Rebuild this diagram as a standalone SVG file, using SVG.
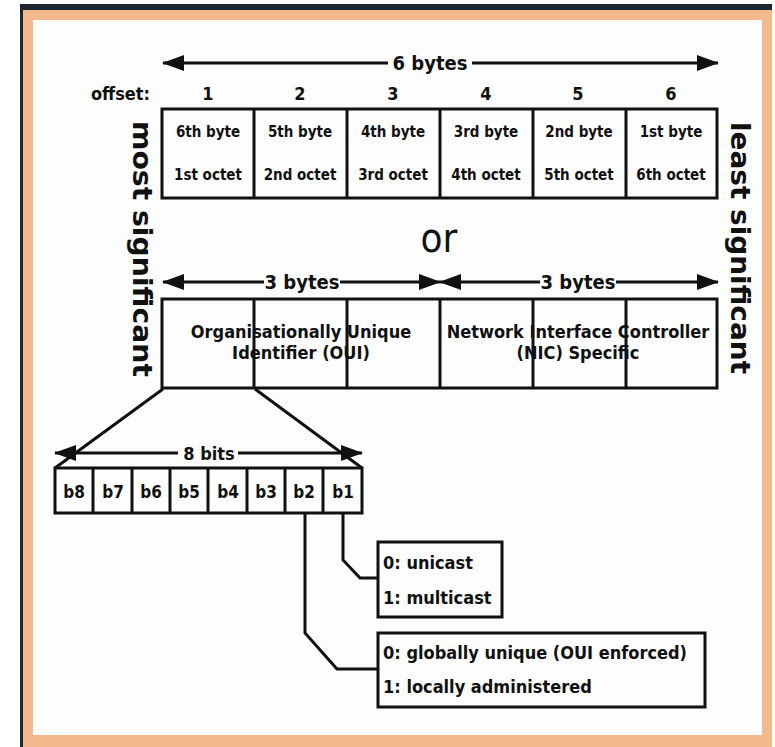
<svg xmlns="http://www.w3.org/2000/svg" width="775" height="747" viewBox="0 0 775 747">
<style>
.t{font-family:"DejaVu Sans Condensed","DejaVu Sans",sans-serif;font-weight:bold;fill:#111;text-anchor:middle}
.l{text-anchor:start}
.box{fill:none;stroke:#111;stroke-width:3}
.ln{fill:none;stroke:#111;stroke-width:3}
.ar{fill:none;stroke:#111;stroke-width:3;marker-start:url(#ah);marker-end:url(#ah)}
.side{font-family:"DejaVu Sans",sans-serif;font-weight:bold;font-size:27px;fill:#111}
</style>
<defs>
<marker id="ah" markerUnits="userSpaceOnUse" markerWidth="22" markerHeight="16" viewBox="0 0 22 16" refX="21" refY="8" orient="auto-start-reverse">
<path d="M0,0 L22,8 L0,16 z" fill="#111"/>
</marker>
</defs>
<g id="frame">
<rect x="0" y="0" width="775" height="747" fill="#ffffff"/>
<rect x="20" y="4" width="752" height="743" fill="#1e2632"/>
<rect x="23" y="10" width="749" height="737" fill="#f3b98d"/>
<rect x="33" y="20" width="729" height="715" fill="#fdfdfd"/>
</g>
<g id="sides">
<text class="side" transform="translate(133,121) rotate(90)" textLength="256" lengthAdjust="spacingAndGlyphs">most significant</text>
<text class="side" transform="translate(731,122) rotate(90)" textLength="252" lengthAdjust="spacingAndGlyphs">least significant</text>
</g>
<g id="dimensions">
<line class="ar" x1="163" y1="63" x2="718" y2="63"/>
<rect x="388" y="50" width="84" height="26" fill="#fdfdfd"/>
<text class="t" x="430" y="70" font-size="20">6 bytes</text>
<line class="ar" x1="163" y1="282" x2="440" y2="282"/>
<line class="ar" x1="440" y1="282" x2="718" y2="282"/>
<rect x="264" y="269" width="76" height="26" fill="#fdfdfd"/>
<text class="t" x="302" y="289" font-size="20">3 bytes</text>
<rect x="540" y="269" width="76" height="26" fill="#fdfdfd"/>
<text class="t" x="578" y="289" font-size="20">3 bytes</text>
</g>
<g id="offsets">
<text class="t" x="150" y="100" font-size="18" style="text-anchor:end">offset:</text>
<text class="t" x="208" y="100" font-size="18">1</text>
<text class="t" x="300" y="100" font-size="18">2</text>
<text class="t" x="393" y="100" font-size="18">3</text>
<text class="t" x="486" y="100" font-size="18">4</text>
<text class="t" x="578" y="100" font-size="18">5</text>
<text class="t" x="671" y="100" font-size="18">6</text>
</g>
<g id="bytes-row">
<rect class="box" x="162" y="109" width="555" height="89"/>
<line class="ln" x1="254" y1="109" x2="254" y2="198"/>
<line class="ln" x1="347" y1="109" x2="347" y2="198"/>
<line class="ln" x1="440" y1="109" x2="440" y2="198"/>
<line class="ln" x1="533" y1="109" x2="533" y2="198"/>
<line class="ln" x1="626" y1="109" x2="626" y2="198"/>
<g font-size="15">
<text class="t" x="208" y="137">6th byte</text>
<text class="t" x="300" y="137">5th byte</text>
<text class="t" x="393" y="137">4th byte</text>
<text class="t" x="486" y="137">3rd byte</text>
<text class="t" x="579" y="137">2nd byte</text>
<text class="t" x="671" y="137">1st byte</text>
<text class="t" x="208" y="180">1st octet</text>
<text class="t" x="300" y="180">2nd octet</text>
<text class="t" x="393" y="180">3rd octet</text>
<text class="t" x="486" y="180">4th octet</text>
<text class="t" x="579" y="180">5th octet</text>
<text class="t" x="671" y="180">6th octet</text>
</g>
</g>
<g id="or">
<text x="439" y="252" font-family="DejaVu Sans Condensed, DejaVu Sans, sans-serif" font-size="40" fill="#111" text-anchor="middle">or</text>
</g>
<g id="oui-nic-row">
<g font-size="18">
<text class="t" x="301" y="338">Organisationally Unique</text>
<text class="t" x="301" y="359">Identifier (OUI)</text>
<text class="t" x="578" y="338">Network Interface Controller</text>
<text class="t" x="578" y="359">(NIC) Specific</text>
</g>
<rect class="box" x="162" y="299" width="555" height="89"/>
<line class="ln" x1="254" y1="299" x2="254" y2="388"/>
<line class="ln" x1="347" y1="299" x2="347" y2="388"/>
<line class="ln" x1="440" y1="299" x2="440" y2="388"/>
<line class="ln" x1="533" y1="299" x2="533" y2="388"/>
<line class="ln" x1="626" y1="299" x2="626" y2="388"/>
</g>
<g id="bits">
<rect class="box" x="55" y="468" width="307" height="45"/>
<line class="ln" x1="93" y1="468" x2="93" y2="513"/>
<line class="ln" x1="132" y1="468" x2="132" y2="513"/>
<line class="ln" x1="170" y1="468" x2="170" y2="513"/>
<line class="ln" x1="208" y1="468" x2="208" y2="513"/>
<line class="ln" x1="247" y1="468" x2="247" y2="513"/>
<line class="ln" x1="285" y1="468" x2="285" y2="513"/>
<line class="ln" x1="323" y1="468" x2="323" y2="513"/>
<g font-size="17">
<text class="t" x="74" y="498">b8</text>
<text class="t" x="113" y="498">b7</text>
<text class="t" x="151" y="498">b6</text>
<text class="t" x="189" y="498">b5</text>
<text class="t" x="228" y="498">b4</text>
<text class="t" x="266" y="498">b3</text>
<text class="t" x="304" y="498">b2</text>
<text class="t" x="343" y="498">b1</text>
</g>
</g>
<g id="cast-box">
<rect class="box" x="378" y="542" width="124" height="75"/>
<text class="t l" x="383" y="569" font-size="18">0: unicast</text>
<text class="t l" x="383" y="604" font-size="18">1: multicast</text>
</g>
<g id="admin-box">
<rect class="box" x="378" y="633" width="327" height="74"/>
<text class="t l" x="383" y="659" font-size="18">0: globally unique (OUI enforced)</text>
<text class="t l" x="383" y="693" font-size="18">1: locally administered</text>
</g>
<g id="connectors">
<line class="ln" x1="163" y1="389" x2="55" y2="468"/>
<line class="ln" x1="255" y1="389" x2="362" y2="468"/>
<line class="ar" x1="55" y1="453" x2="362" y2="453"/>
<rect x="178" y="441" width="60" height="24" fill="#fdfdfd"/>
<text class="t" x="209" y="460" font-size="18">8 bits</text>
<polyline class="ln" points="343,513 343,560 360,578 378,578"/>
<polyline class="ln" points="305,513 305,633 337,669 378,669"/>
</g>
</svg>
